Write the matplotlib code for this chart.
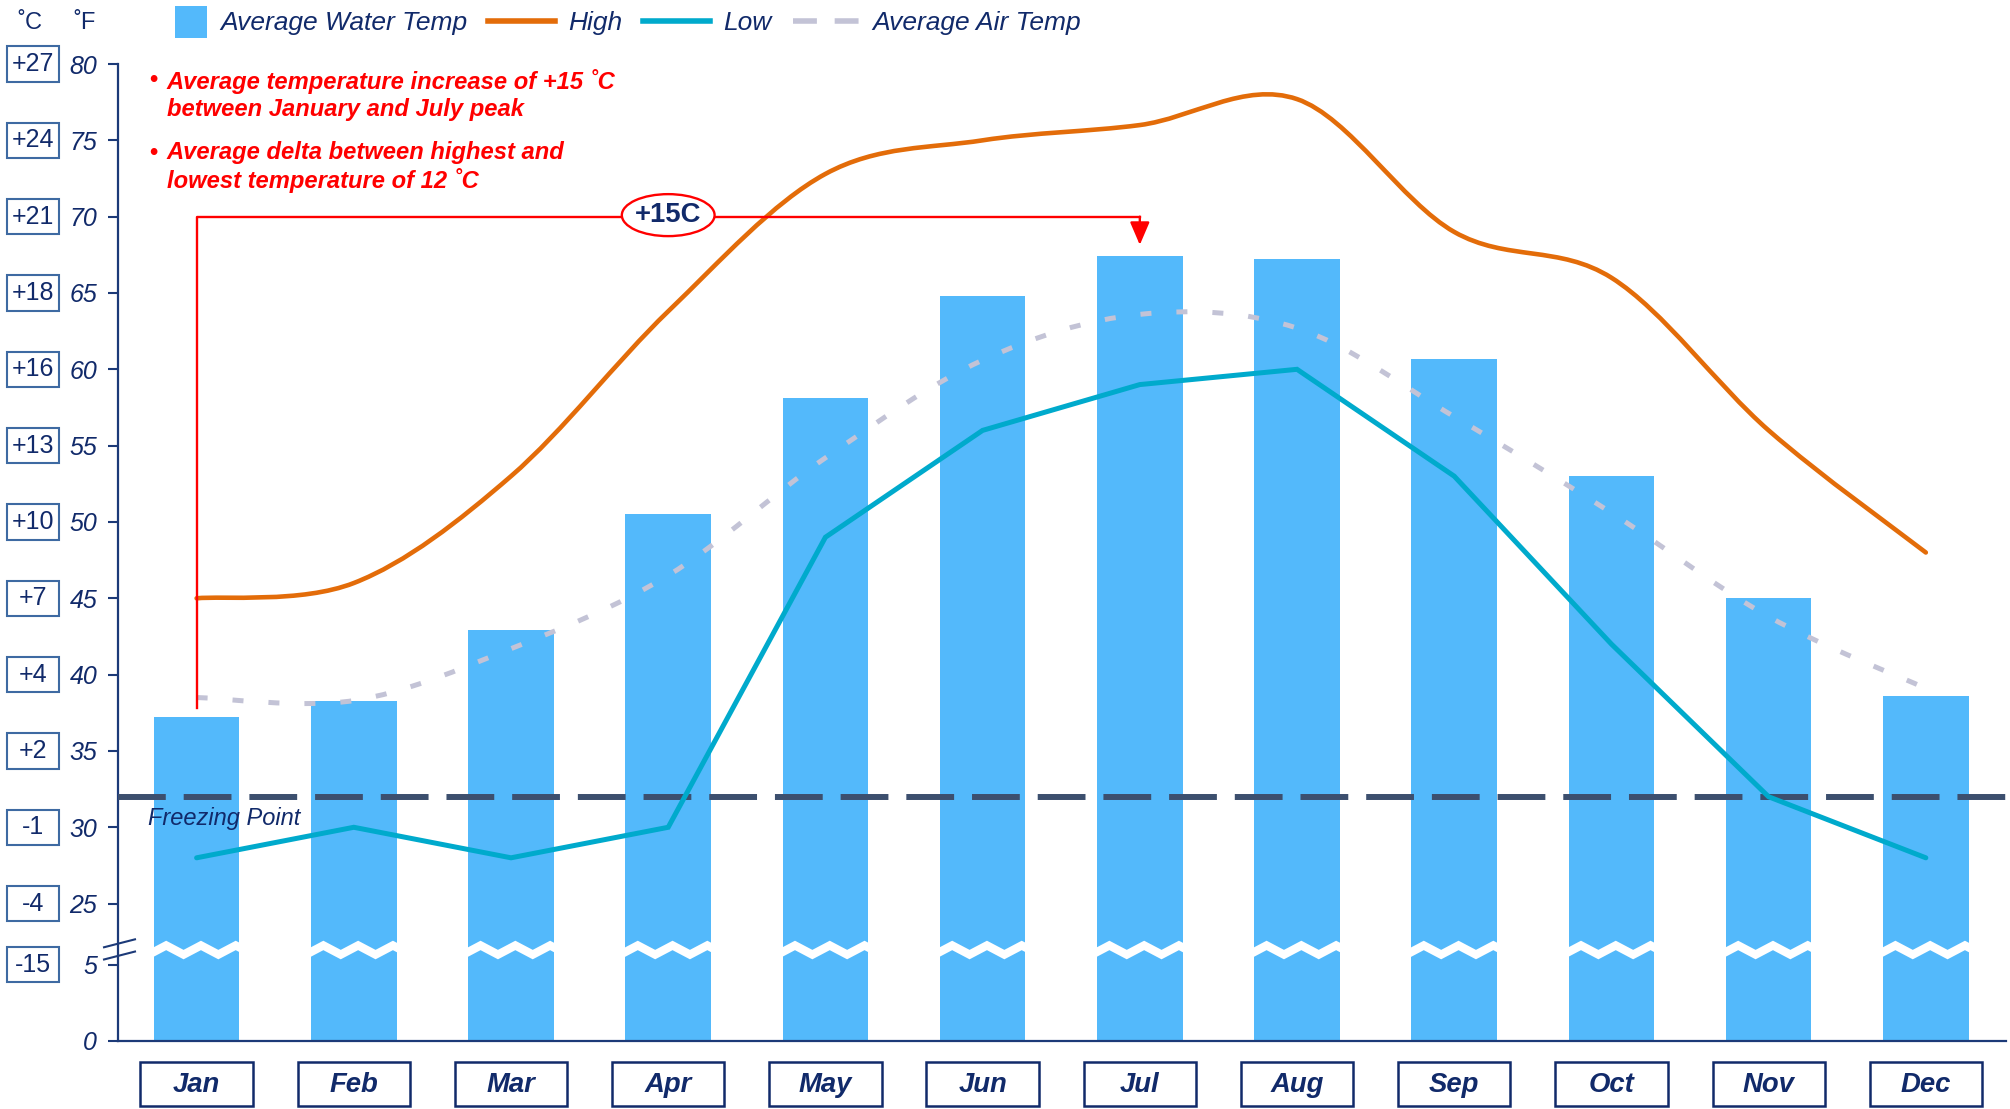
import numpy as np
import matplotlib
matplotlib.use('Agg')
import matplotlib.pyplot as plt
import matplotlib.transforms as mtransforms
from matplotlib.path import Path
from matplotlib.patches import PathPatch, Rectangle, Ellipse, Polygon
from matplotlib.lines import Line2D
from matplotlib.legend_handler import HandlerBase
from matplotlib import font_manager as fm

# data (deg F)
months = ['Jan', 'Feb', 'Mar', 'Apr', 'May', 'Jun', 'Jul', 'Aug', 'Sep', 'Oct', 'Nov', 'Dec']
water_temp = [37.2, 38.3, 42.9, 50.5, 58.1, 64.8, 67.4, 67.2, 60.7, 53.0, 45.0, 38.6]
high_temp = [45.0, 46.0, 53.0, 63.8, 72.8, 75.0, 76.0, 77.7, 69.0, 66.0, 56.0, 48.0]
low_temp = [28, 30, 28, 30, 49, 56, 59, 60, 53, 42, 32, 28]
air_temp = [38.5, 38.3, 41.7, 46.5, 54.2, 60.6, 63.6, 62.7, 56.9, 50.6, 43.8, 39.1]
f_ticks = [0, 5, 25, 30, 35, 40, 45, 50, 55, 60, 65, 70, 75, 80]
freezing_f = 32
note_lines = ['Average temperature increase of +15 ˚C\nbetween January and July peak',
              'Average delta between highest and\nlowest temperature of 12 ˚C']
delta_label = '+15C'

navy = '#112a6a'
spine_col = '#1c3a78'
bar_col = '#53b9fb'
orange = '#e36c09'
teal = '#00aacc'
gray = '#c3c3d6'
freeze_col = '#3c4f6e'
red = '#ff0000'

names = {f.name for f in fm.fontManager.ttflist}
narrow = 'Liberation Sans Narrow' if 'Liberation Sans Narrow' in names else 'Liberation Sans'
nscale = 1.0 if narrow == 'Liberation Sans Narrow' else 0.9
plt.rcParams['font.family'] = ['Liberation Sans', 'DejaVu Sans']

# broken y axis: 0..6.8 kept, 23.2.. shifted down by 16
LO, HI, OFF = 6.8, 23.2, 16.0


def fwd(v):
    v = np.asarray(v, dtype=float)
    top = HI - OFF
    mid = LO + (v - LO) * (top - LO) / (HI - LO)
    return np.where(v <= LO, v, np.where(v >= HI, v - OFF, mid))


def inv(p):
    p = np.asarray(p, dtype=float)
    top = HI - OFF
    mid = LO + (p - LO) * (HI - LO) / (top - LO)
    return np.where(p <= LO, p, np.where(p >= top, p + OFF, mid))


def smooth_path(xs, ys):
    # excel style smoothed line (catmull-rom as cubic bezier)
    pts = np.column_stack([xs, ys]).astype(float)
    n = len(pts)
    verts = [pts[0]]
    codes = [Path.MOVETO]
    for i in range(n - 1):
        p0 = pts[max(i - 1, 0)]
        p1 = pts[i]
        p2 = pts[i + 1]
        p3 = pts[min(i + 2, n - 1)]
        verts += [p1 + (p2 - p0) / 6, p2 - (p3 - p1) / 6, p2]
        codes += [Path.CURVE4] * 3
    return Path(verts, codes)


class SquareHandler(HandlerBase):
    def create_artists(self, legend, orig_handle, xdescent, ydescent,
                       width, height, fontsize, trans):
        side = 23
        r = Rectangle((-xdescent + width - side, -ydescent + height / 2 - side / 2 - 1),
                      side, side, fc=bar_col, ec='none', transform=trans)
        return [r]


fig = plt.figure(figsize=(20.1, 11.09), dpi=100)
ax = fig.add_axes([118 / 2010, 1 - 1041 / 1109, 1888 / 2010, 977 / 1109])
ax.set_yscale('function', functions=(fwd, inv))

x = np.arange(len(months))
bw = 0.545
ax.bar(x, water_temp, width=bw, color=bar_col, zorder=2)

# wavy white break across each bar
frac = np.array([0, 0.15, 0.35, 0.55, 0.75, 0.95, 1.0])
shape = np.array([0.25, 1, 0, 1, 0, 1, 0.75])
for xi in x:
    xs = xi - bw / 2 - 0.004 + frac * (bw + 0.008)
    yb = 5.35 + 0.6 * shape
    yt = yb + 0.62
    poly = np.vstack([np.column_stack([xs, yb]), np.column_stack([xs[::-1], yt[::-1]])])
    ax.add_patch(Polygon(poly, closed=True, fc='white', ec='none', zorder=3))

ax.axhline(freezing_f, color=freeze_col, lw=4.3, dashes=(8, 3), zorder=4)
ax.text(-0.31, 30.6, 'Freezing Point', color=navy, fontsize=17, style='italic',
        ha='left', va='center', zorder=8)

ax.add_patch(PathPatch(smooth_path(x, air_temp), fill=False, ec=gray, lw=3.6,
                       linestyle=(0, (2.2, 5)), zorder=5))
ax.add_patch(PathPatch(smooth_path(x, high_temp), fill=False, ec=orange, lw=3.3,
                       capstyle='round', zorder=5))
ax.plot(x, low_temp, color=teal, lw=3.6, solid_capstyle='round', solid_joinstyle='miter', zorder=5)

# +15C annotation
jan, jul = 0, 6
ax.plot([x[jan], x[jan], x[jul]], [water_temp[jan] + 0.6, 70, 70], color=red, lw=1.7, zorder=6)
ax.annotate('', xy=(x[jul], water_temp[jul] + 0.75), xytext=(x[jul], 70),
            arrowprops=dict(arrowstyle='-|>,head_length=0.7,head_width=0.3', color=red,
                            lw=1.7, shrinkA=0, shrinkB=0, mutation_scale=20), zorder=6)
ax.add_patch(Ellipse((3, 70.1), 0.59, 2.75, fc='white', ec=red, lw=1.7, zorder=7))
ax.text(3, 70.1, delta_label, ha='center', va='center', color=navy, fontsize=22 * nscale,
        fontweight='bold', family=[narrow, 'DejaVu Sans'], zorder=8)

# bullet notes
for (yb, yc), txt in zip([(79.0, 77.95), (74.2, 73.25)], note_lines):
    ax.text(-0.3, yb, '•', color=red, fontsize=17, fontweight='bold', ha='left', va='center',
            zorder=8)
    ax.text(-0.19, yc, txt, color=red, fontsize=19 * nscale, fontweight='bold', style='italic',
            family=[narrow, 'DejaVu Sans'], ha='left', va='center', linespacing=1.22, zorder=8)

# axes styling
ax.set_xlim(-0.5, 11.51)
ax.set_ylim(0, 80)
ax.set_yticks(f_ticks)
ax.set_yticklabels([str(t) for t in f_ticks], fontsize=18, style='italic', color=navy)
ax.tick_params(axis='y', length=7, width=1.5, pad=8, color=spine_col)
ax.set_xticks([])
for s in ['top', 'right']:
    ax.spines[s].set_visible(False)
for s in ['left', 'bottom']:
    ax.spines[s].set_color(spine_col)
    ax.spines[s].set_linewidth(1.6)

blend_y = mtransforms.blended_transform_factory(ax.transAxes, ax.transData)
blend_x = mtransforms.blended_transform_factory(ax.transData, ax.transAxes)

# axis break marks
for yc in (5.6, 6.4):
    ax.plot([-0.0074, 0.009], [yc - 0.26, yc + 0.26], color=spine_col, lw=1.5,
            transform=blend_y, clip_on=False, zorder=9)

# celsius boxes
for f in f_ticks:
    if f == 0:
        continue
    c = int(round((f - 32) * 5 / 9))
    ax.add_patch(Rectangle((-0.0588, f - 1.15), 0.0275, 2.3, transform=blend_y, fc='white',
                           ec='#3e6aa2', lw=1.5, clip_on=False, zorder=9))
    ax.text(-0.0451, f, f'{c:+d}', transform=blend_y, ha='center', va='center',
            fontsize=18, color=navy, zorder=10)

# month boxes
for xi, m in zip(x, months):
    ax.add_patch(Rectangle((xi - 0.357, -0.0665), 0.714, 0.045, transform=blend_x, fc='white',
                           ec=navy, lw=1.8, clip_on=False, zorder=9))
    ax.text(xi, -0.0455, m, transform=blend_x, ha='center', va='center', fontsize=22 * nscale,
            fontweight='bold', style='italic', family=[narrow, 'DejaVu Sans'], color=navy,
            zorder=10)

fig.text(30 / 2010, 1 - 23 / 1109, '˚C', ha='center', va='center', fontsize=17, color=navy)
fig.text(85 / 2010, 1 - 23 / 1109, '˚F', ha='center', va='center', fontsize=17, color=navy)

# legend
h_water = Rectangle((0, 0), 1, 1, fc=bar_col)
h_high = Line2D([], [], color=orange, lw=4)
h_low = Line2D([], [], color=teal, lw=4)
h_air = Line2D([], [], color=gray, lw=4, dashes=(4.3, 3.2))
leg = fig.legend([h_water, h_high, h_low, h_air],
                 ['Average Water Temp', 'High', 'Low', 'Average Air Temp'],
                 handler_map={Rectangle: SquareHandler()},
                 loc='center left', bbox_to_anchor=(140 / 2010, 1 - 23 / 1109), ncol=4,
                 frameon=False, borderpad=0, borderaxespad=0, handlelength=2.54,
                 handletextpad=0.49, columnspacing=0.8,
                 prop=dict(family='Liberation Sans', style='italic', size=19))
for t in leg.get_texts():
    t.set_color(navy)

fig.savefig('out.png', dpi=100)
